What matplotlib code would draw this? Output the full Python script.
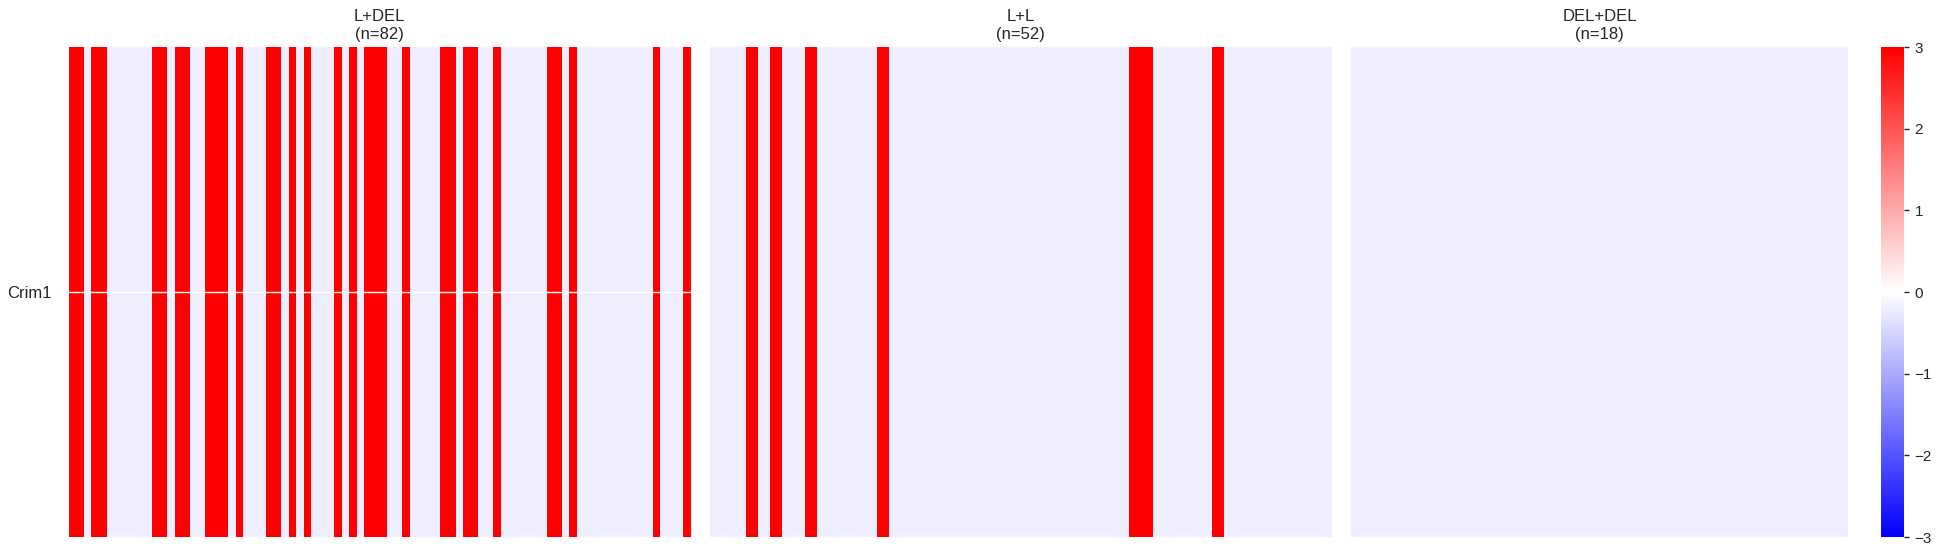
"""
Crim1 heatmap split by genotype group (L+DEL, L+L, DEL+DEL).
Light cells sit just below zero, red cells are saturated at the top of the scale.
"""
import numpy as np
import matplotlib
matplotlib.use('Agg')
import matplotlib.pyplot as plt

L = -0.2   # low value (pale lavender on bwr)
H = 3      # high value (red)

gene = 'Crim1'
groups = ['L+DEL', 'L+L', 'DEL+DEL']

l_del = [H, H, L, H, H, L, L, L, L, L,
         L, H, H, L, H, H, L, L, H, H,
         H, L, H, L, L, L, H, H, L, H,
         L, H, L, L, L, H, L, H, L, H,
         H, H, L, L, H, L, L, L, L, H,
         H, L, H, H, L, L, H, L, L, L,
         L, L, L, H, H, L, H, L, L, L,
         L, L, L, L, L, L, L, H, L, L,
         L, H]
l_l = [L, L, L, H, L, H, L, L, H, L,
       L, L, L, L, H, L, L, L, L, L,
       L, L, L, L, L, L, L, L, L, L,
       L, L, L, L, L, H, H, L, L, L,
       L, L, H, L, L, L, L, L, L, L,
       L, L]
del_del = [L] * 18

panels = [l_del, l_l, del_del]

plt.rcParams['font.family'] = ['Liberation Sans', 'DejaVu Sans']
plt.rcParams['text.color'] = '.15'
plt.rcParams['xtick.color'] = '.15'
plt.rcParams['ytick.color'] = '.15'

fig = plt.figure(figsize=(19.45, 5.57), dpi=100)

# axes boxes in figure fractions (left, bottom, width, height)
boxes = [[0.0353, 0.0359, 0.3198, 0.8797],
         [0.3649, 0.0359, 0.3200, 0.8797],
         [0.6946, 0.0359, 0.2555, 0.8797]]
cax = fig.add_axes([0.9671, 0.0359, 0.0118, 0.8797])

for i, vals in enumerate(panels):
    ax = fig.add_axes(boxes[i])
    data = np.array([vals], dtype=float)
    mesh = ax.pcolormesh(data, cmap='bwr', vmin=-3, vmax=3)
    ax.set_xlim(0, len(vals))
    ax.set_ylim(1, 0)
    for s in ax.spines.values():
        s.set_visible(False)
    ax.set_xticks([])
    ax.set_title('%s\n(n=%d)' % (groups[i], len(vals)), fontsize=12)
    if i == 0:
        ax.set_yticks([0.5])
        ax.set_yticklabels([gene], fontsize=12)
        ax.tick_params(axis='y', length=0, pad=12)
        ax.set_axisbelow(False)
        ax.yaxis.grid(True, color='white', linewidth=1)
    else:
        ax.set_yticks([])

cb = fig.colorbar(mesh, cax=cax, ticks=[-3, -2, -1, 0, 1, 2, 3])
cb.outline.set_visible(False)
cax.tick_params(labelsize=11, length=3.5, width=1, pad=4)

plt.savefig('out.png', dpi=100)
